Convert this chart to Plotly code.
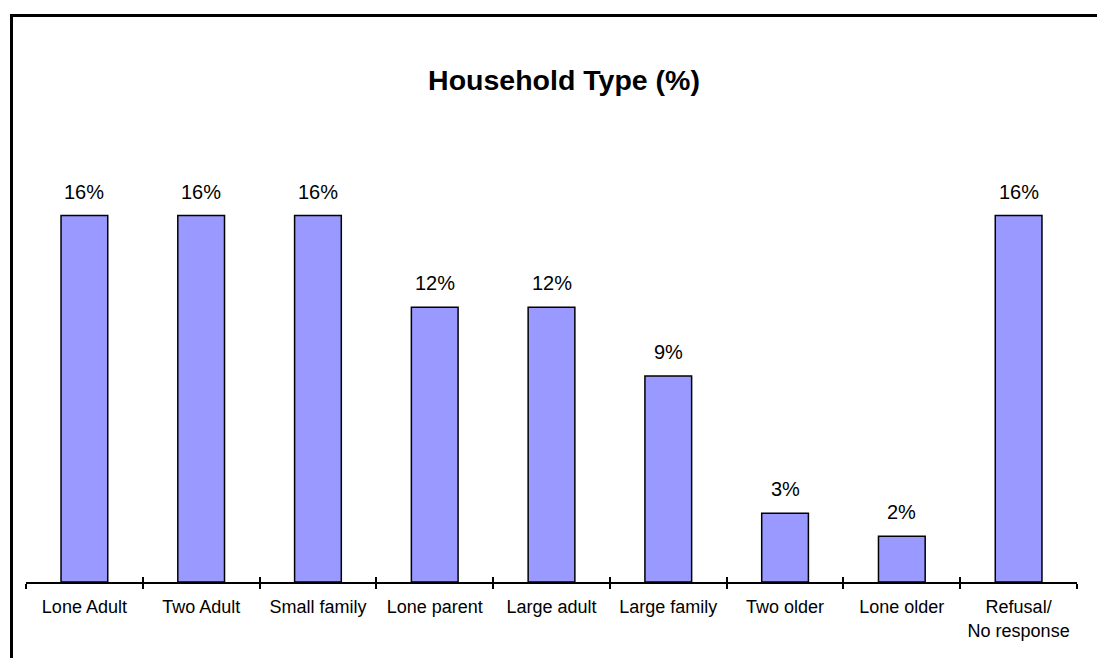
import plotly.graph_objects as go

categories = ["Lone Adult", "Two Adult", "Small family", "Lone parent", "Large adult",
              "Large family", "Two older", "Lone older", "Refusal/<br>No response"]
values = [16, 16, 16, 12, 12, 9, 3, 2, 16]
labels = [f"{v}%" for v in values]

W, H = 1105, 658
# the page body adds an 8px offset; positions below are in figure pixels
L, R, T, B = 18, 36, 116, 84
ymax = 20
FONT = "Liberation Sans, Arial"

fig = go.Figure()
fig.add_trace(go.Bar(
    x=categories, y=values,
    marker=dict(color="#9999FF", line=dict(color="black", width=1.5)),
    width=0.40, hoverinfo="skip",
))
# invisible trace for the upward tick marks axis
fig.add_trace(go.Scatter(x=[-0.5, 8.5], y=[0, 0], xaxis="x2", mode="markers",
                         marker=dict(opacity=0), showlegend=False, hoverinfo="skip"))

for c, v, t in zip(categories, values, labels):
    fig.add_annotation(x=c, y=v, text=t, showarrow=False, yanchor="bottom",
                       yshift=11, font=dict(family=FONT, size=20, color="black"))

plot_w = W - L - R
plot_h = H - T - B
fx0 = (3.5 - L) / plot_w
fy1 = (H - B - 7.5) / plot_h
fig.add_shape(type="rect", xref="paper", yref="paper",
              x0=fx0, x1=2.0, y0=-1.0, y1=fy1,
              line=dict(color="black", width=3), fillcolor="rgba(0,0,0,0)", layer="below")

fig.update_layout(
    width=W, height=H,
    margin=dict(l=L, r=R, t=T, b=B),
    paper_bgcolor="white", plot_bgcolor="white",
    showlegend=False,
    title=dict(text="<b>Household Type (%)</b>", x=556 / W, xanchor="center",
               xref="container", yref="container", y=1 - 72 / H, yanchor="middle",
               font=dict(family=FONT, size=28.5, color="black")),
    xaxis=dict(type="category", showline=True, linecolor="black", linewidth=1.5,
               ticks="outside", ticklen=5, tickwidth=1.5, tickcolor="black",
               tickson="boundaries", showgrid=False, zeroline=False,
               tickfont=dict(family=FONT, size=18, color="black"),
               ticklabelstandoff=8),
    xaxis2=dict(overlaying="x", anchor="y", range=[-0.5, 8.5], side="bottom",
                tickvals=[i - 0.5 for i in range(10)], ticks="inside", ticklen=5,
                tickwidth=1.5, tickcolor="black", showticklabels=False,
                showline=False, showgrid=False, zeroline=False),
    yaxis=dict(range=[0, ymax], visible=False, showgrid=False, zeroline=False),
    font=dict(family=FONT, color="black"),
)

fig.write_html("out.html")
